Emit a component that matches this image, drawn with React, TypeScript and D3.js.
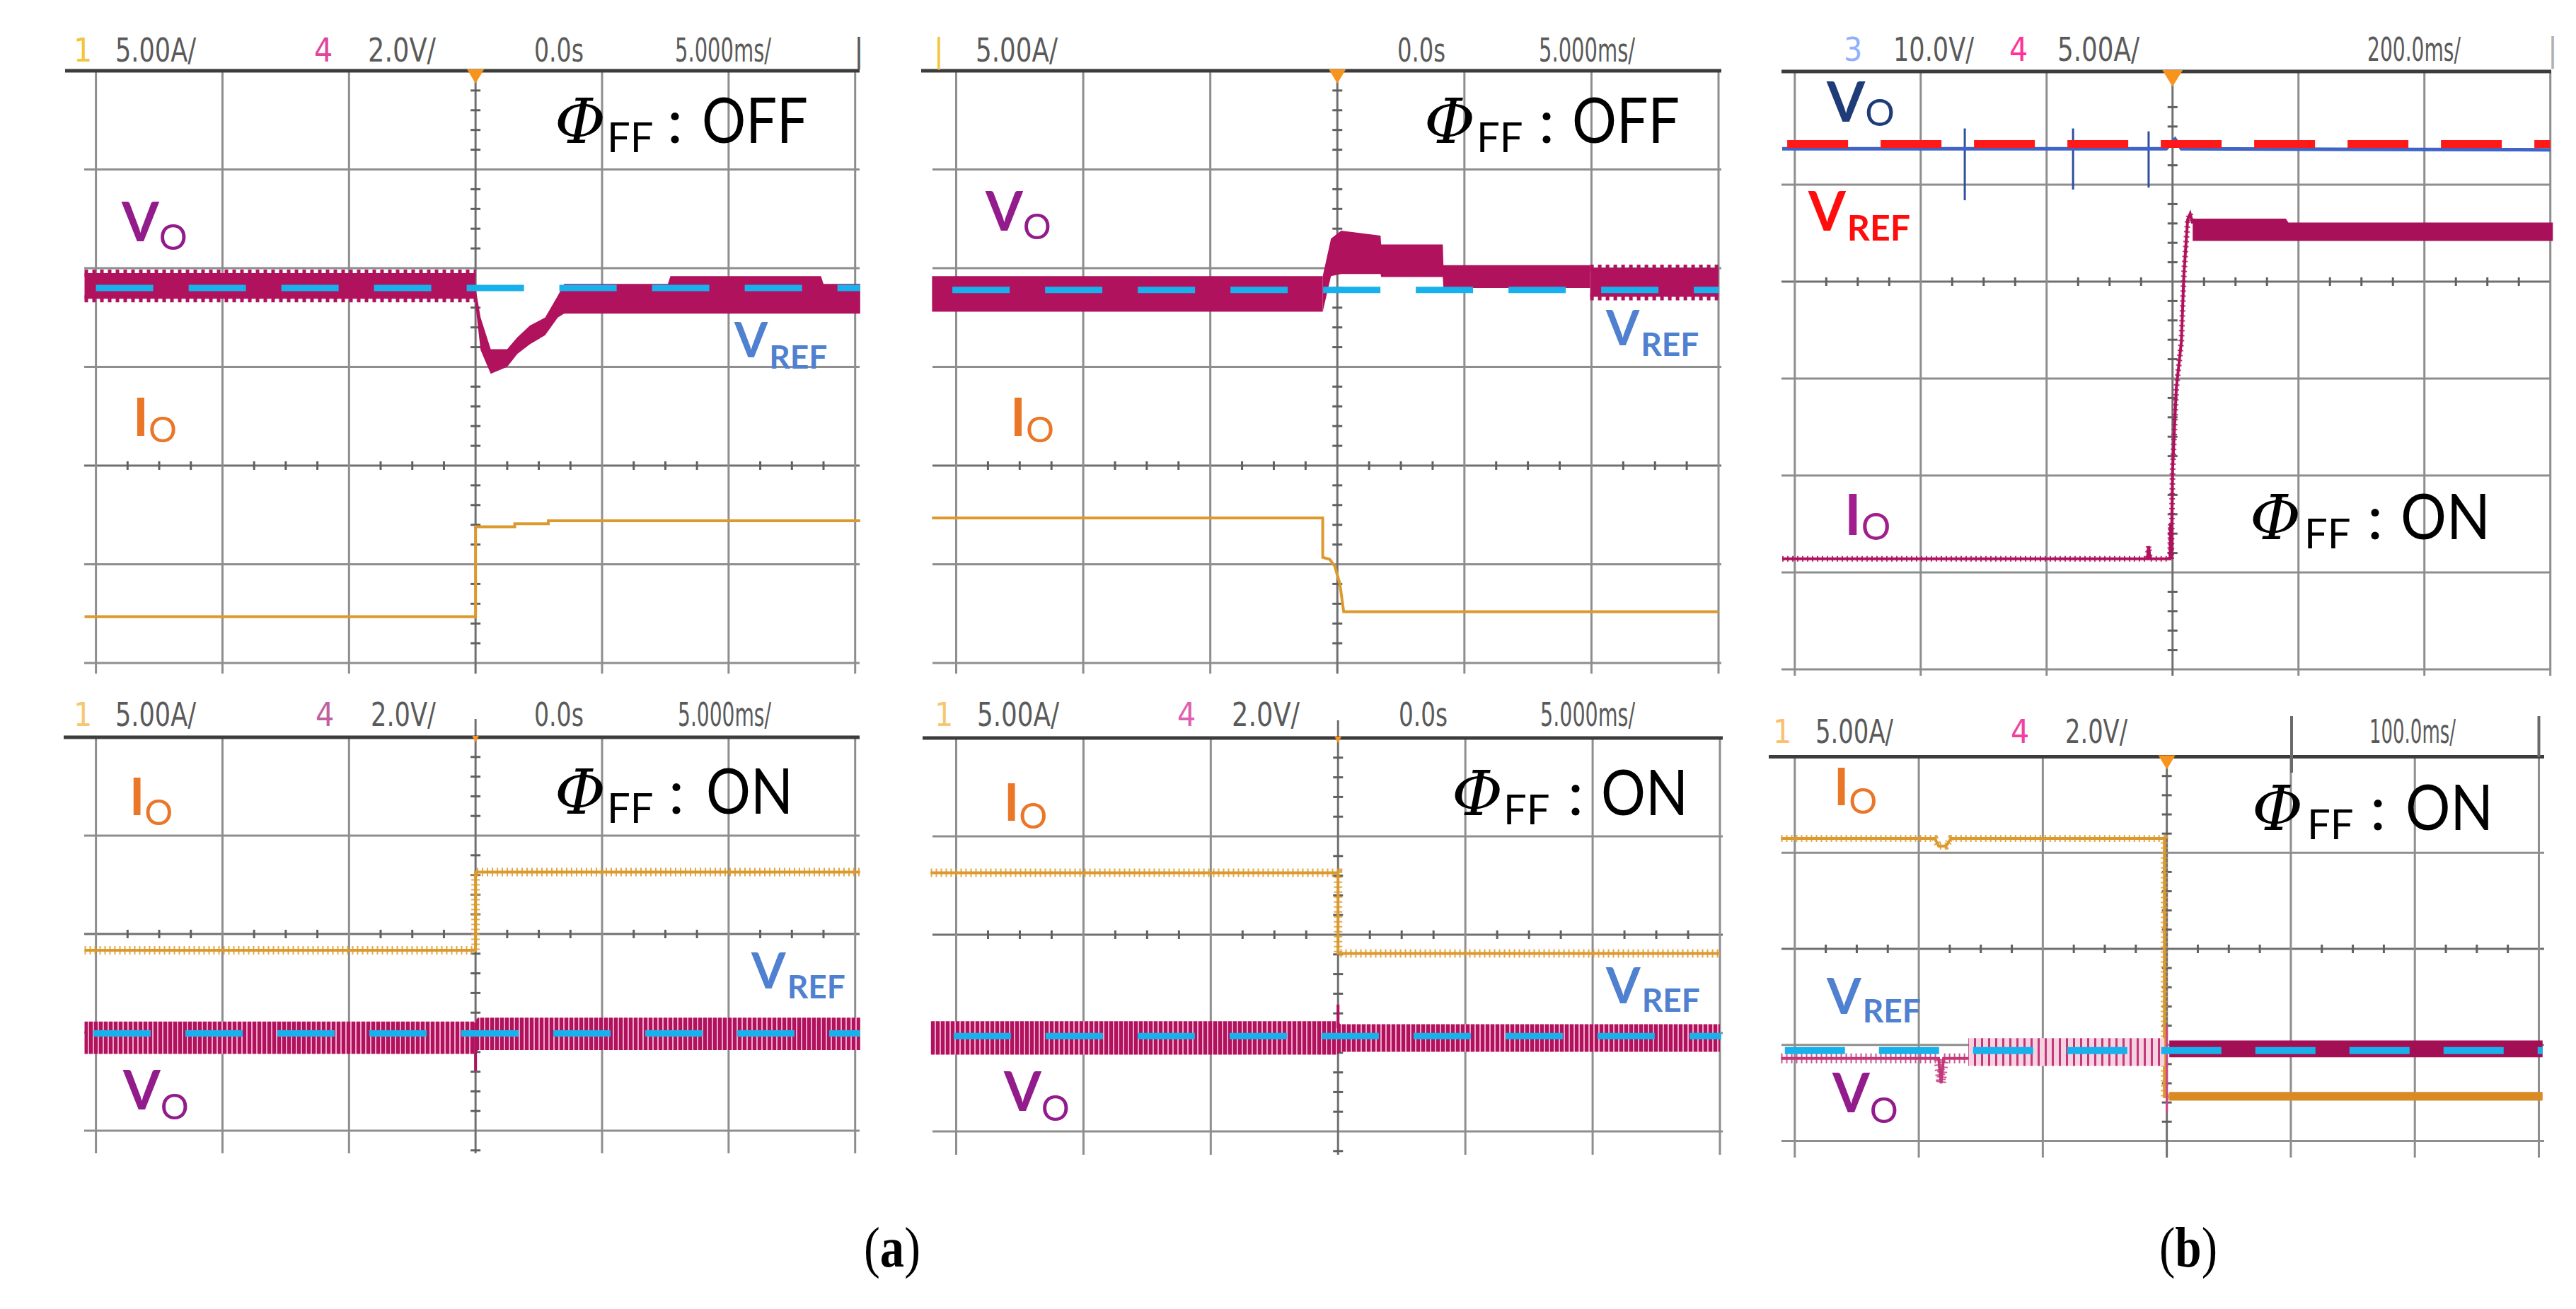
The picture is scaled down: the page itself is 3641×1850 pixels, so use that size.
import React from 'react';
import * as d3 from 'd3';

type Pt = [number, number];
type BandPt = [number, number, number]; // x, top, bottom (scope divisions)
type Sc = d3.ScaleLinear<number, number>;

const W = 3641;
const H = 1850;

const CRIMSON = '#b0125e';
const ORANGE = '#dc9a2e';
const CYAN = '#18b1ec';
const RED = '#ff1a1a';
const BLUE_TRACE = '#3f63c6';
const GRID = '#8e8e8e';
const BORDER = '#3c3c3c';
const LBL_V = '#931c8c';
const LBL_I = '#ea7628';
const LBL_REF = '#5080d0';

// ---------- data, in scope divisions (x: time div from trigger, y: div from centre line) ----------

// (a) top-left : phi_ff OFF, load step up
const aOffUpVoBefore: BandPt[] = [[-3.09, 1.95, 1.69], [0, 1.95, 1.69]];
const aOffUpVoAfter: BandPt[] = [
  [0, 1.8, 1.62], [0.04, 1.5, 1.17], [0.12, 1.18, 0.93], [0.25, 1.18, 1.0],
  [0.33, 1.3, 1.13], [0.43, 1.42, 1.23], [0.55, 1.5, 1.32], [0.65, 1.72, 1.5],
  [0.7, 1.84, 1.54], [1.52, 1.84, 1.54], [1.54, 1.92, 1.54], [2.73, 1.92, 1.54],
  [2.75, 1.84, 1.54], [3.04, 1.84, 1.54],
];
const aOffUpIo: Pt[] = [[-3.09, -1.53], [0, -0.62], [0.31, -0.59], [0.575, -0.56], [3.04, -0.56]];
const aOffUpVref: Pt[] = [[-3.0, 1.8], [3.04, 1.8]];

// (a) top-middle : phi_ff OFF, load step down
const aOffDnVoBefore: BandPt[] = [[-3.19, 1.92, 1.56], [-0.115, 1.92, 1.56]];
const aOffDnVoAfter: BandPt[] = [
  [-0.115, 1.92, 1.56], [-0.05, 2.3, 1.92], [0.03, 2.38, 1.94], [0.34, 2.33, 1.94],
  [0.345, 2.24, 1.91], [0.83, 2.24, 1.91], [0.835, 2.03, 1.8], [1.99, 2.03, 1.8],
];
const aOffDnVoRipple: BandPt[] = [[1.99, 2.0, 1.71], [3.0, 2.0, 1.71]];
const aOffDnIo: Pt[] = [
  [-3.19, -0.53], [-0.115, -0.53], [-0.115, -0.93], [-0.06, -0.95], [-0.02, -1.02],
  [0.02, -1.2], [0.05, -1.48], [3.0, -1.48],
];
const aOffDnVref: Pt[] = [[-3.03, 1.78], [3.0, 1.78]];

// (b) top-right : phi_ff ON, 200 us/div
const bOnVo: Pt[] = [[-3.1, 1.37], [-0.05, 1.37], [0.02, 1.47], [0.07, 1.37], [3.0, 1.36]];
const bOnVoSpikes: [number, number, number][] = [[-1.65, 1.58, 0.84], [-0.79, 1.58, 0.95], [-0.19, 1.55, 0.97]];
const bOnVref: Pt[] = [[-3.06, 1.42], [3.0, 1.42]];
const bOnIo: Pt[] = [
  [-3.1, -2.86], [-0.2, -2.86], [-0.19, -2.73], [-0.18, -2.86], [-0.02, -2.86],
  [-0.015, -2.5], [-0.01, -2.86], [0.0, -1.95], [0.03, -1.1], [0.07, -0.62],
  [0.09, 0.07], [0.12, 0.64], [0.14, 0.7], [0.16, 0.6],
];
const bOnIoBand: BandPt[] = [[0.16, 0.65, 0.42], [0.9, 0.65, 0.42], [0.92, 0.61, 0.42], [3.02, 0.61, 0.42]];

// (a) bottom-left : phi_ff ON, load step up
const aOnUpIo: Pt[] = [[-3.09, -0.165], [0, 0.63], [3.04, 0.63]];
const aOnUpVo: BandPt[] = [[-3.09, -0.89, -1.22], [-0.01, -0.89, -1.22], [0.02, -0.85, -1.18], [3.04, -0.85, -1.18]];
const aOnUpVoSpike: Pt[] = [[0, -0.9], [0, -1.39]];
const aOnUpVref: Pt[] = [[-3.02, -1.01], [3.04, -1.01]];

// (a) bottom-middle : phi_ff ON, load step down
const aOnDnIo: Pt[] = [[-3.2, 0.63], [0, -0.19], [3.0, -0.19]];
const aOnDnVo: BandPt[] = [[-3.2, -0.88, -1.22], [-0.01, -0.88, -1.22], [0.02, -0.91, -1.19], [3.0, -0.91, -1.19]];
const aOnDnVoSpike: Pt[] = [[0, -0.71], [0, -0.95]];
const aOnDnVref: Pt[] = [[-3.02, -1.03], [3.01, -1.03]];

// (b) bottom-right : phi_ff ON, 100 us/div
const bOn2Io: Pt[] = [
  [-3.11, 1.15], [-1.87, 1.15], [-1.84, 1.07], [-1.78, 1.07], [-1.74, 1.15],
  [-0.02, 1.15], [-0.02, -1.54], [0.02, -1.54],
];
const bOn2IoBand: BandPt[] = [[0.02, -1.49, -1.58], [3.03, -1.49, -1.58]];
const bOn2VoLine: Pt[] = [[-3.11, -1.14], [-1.84, -1.14], [-1.82, -1.4], [-1.8, -1.14], [-1.6, -1.14]];
const bOn2VoStripes: BandPt[] = [[-1.6, -0.93, -1.22], [-0.02, -0.93, -1.22]];
const bOn2VoAfter: BandPt[] = [[0.02, -0.955, -1.13], [3.03, -0.955, -1.13]];
const bOn2Spike: Pt[] = [[0, -0.8], [0, -1.7]];
const bOn2Vref: Pt[] = [[-3.08, -1.06], [3.03, -1.06]];

// ---------- layout ----------
type Geo = {
  xl: number; xr: number; y0: number; dv: number; hLines: number[];
  topPx: number; topL: number; topR: number; extL: number; extR: number;
  vBottom: number; trig: number; centerUp?: number;
};
type Hdr = { t: string; x: number; w?: number; c?: string };
type Lbl = { main: string; sub: string; x: number; y: number; size: number; subSize: number; subDy: number; subDx?: number; subWeight?: number; color: string };
type Phi = { x: number; ffx: number; cx: number; sx: number; sw: number; y: number; state: string };

const geoA1: Geo = { xl: 135.6, xr: 1208.7, y0: 658, dv: 139.5, hLines: [-2, -1, 0, 1, 2, 3], topPx: 100, topL: 92, topR: 1215, extL: 119, extR: 1215, vBottom: 952, trig: 1 };
const geoA2: Geo = { xl: 1351.5, xr: 2429, y0: 658, dv: 139.5, hLines: [-2, -1, 0, 1, 2, 3], topPx: 100, topL: 1302, topR: 2433, extL: 1318, extR: 2433, vBottom: 952, trig: 1 };
const geoB1: Geo = { xl: 2536.8, xr: 3604.7, y0: 398, dv: 137, hLines: [-4, -3, -2, -1, 0, 1], topPx: 101, topL: 2518, topR: 3606, extL: 2518, extR: 3606, vBottom: 955, trig: 1.2 };
const geoA3: Geo = { xl: 135.6, xr: 1208.7, y0: 1320, dv: 139, hLines: [-2, -1, 0, 1], topPx: 1042, topL: 90, topR: 1215, extL: 119, extR: 1215, vBottom: 1630, trig: 0.4, centerUp: 1016 };
const geoA4: Geo = { xl: 1351.5, xr: 2431, y0: 1321, dv: 139, hLines: [-2, -1, 0, 1], topPx: 1043, topL: 1304, topR: 2435, extL: 1318, extR: 2435, vBottom: 1632, trig: 0.4, centerUp: 1018 };
const geoB2: Geo = { xl: 2536.8, xr: 3588.5, y0: 1341, dv: 135.7, hLines: [-2, -1, 0, 1], topPx: 1069.6, topL: 2500, topR: 3596, extL: 2518, extR: 3596, vBottom: 1636, trig: 1 };

const CH1 = '#f2c53d';
const CH4 = '#e2439d';
const hdrA1: Hdr[] = [
  { t: '1', x: 104, c: CH1 }, { t: '5.00A/', x: 163, w: 114 }, { t: '4', x: 444, c: CH4 },
  { t: '2.0V/', x: 520, w: 96 }, { t: '0.0s', x: 755, w: 70 }, { t: '5.000ms/', x: 954, w: 136 }, { t: '|', x: 1207 },
];
const hdrA2: Hdr[] = [
  { t: '|', x: 1320, c: CH1 }, { t: '5.00A/', x: 1379, w: 116 }, { t: '0.0s', x: 1975, w: 68 }, { t: '5.000ms/', x: 2175, w: 136 },
];
const hdrB1: Hdr[] = [
  { t: '3', x: 2606, c: '#8fb0ff' }, { t: '10.0V/', x: 2676, w: 114 }, { t: '4', x: 2840, c: '#ff3399' },
  { t: '5.00A/', x: 2908, w: 116 }, { t: '200.0ms/', x: 3346, w: 132 }, { t: '|', x: 3601, c: '#b0b0b0' },
];
const hdrA3: Hdr[] = [
  { t: '1', x: 104, c: '#f5c870' }, { t: '5.00A/', x: 163, w: 114 }, { t: '4', x: 446, c: '#c060a0' },
  { t: '2.0V/', x: 524, w: 92 }, { t: '0.0s', x: 755, w: 70 }, { t: '5.000ms/', x: 958, w: 132 },
];
const hdrA4: Hdr[] = [
  { t: '1', x: 1321, c: '#f5c870' }, { t: '5.00A/', x: 1381, w: 116 }, { t: '4', x: 1664, c: '#e060b0' },
  { t: '2.0V/', x: 1741, w: 96 }, { t: '0.0s', x: 1977, w: 69 }, { t: '5.000ms/', x: 2177, w: 134 },
];
const hdrB2: Hdr[] = [
  { t: '1', x: 2506, c: '#f8c070' }, { t: '5.00A/', x: 2566, w: 110 }, { t: '4', x: 2842, c: '#f040a0' },
  { t: '2.0V/', x: 2919, w: 88 }, { t: '100.0ms/', x: 3349, w: 122 },
];

const lblA1: Lbl[] = [
  { main: 'V', sub: 'O', x: 172, y: 341, size: 76, subSize: 50, subDy: 12, color: LBL_V },
  { main: 'I', sub: 'O', x: 188, y: 616, size: 74, subSize: 50, subDy: 9, color: LBL_I },
  { main: 'V', sub: 'REF', x: 1038, y: 505, size: 68, subSize: 46, subDy: 16, subDx: 2, subWeight: 700, color: LBL_REF },
];
const lblA2: Lbl[] = [
  { main: 'V', sub: 'O', x: 1393, y: 326, size: 76, subSize: 50, subDy: 12, color: LBL_V },
  { main: 'I', sub: 'O', x: 1428, y: 616, size: 74, subSize: 50, subDy: 9, color: LBL_I },
  { main: 'V', sub: 'REF', x: 2270, y: 488, size: 68, subSize: 46, subDy: 15, subDx: 2, subWeight: 700, color: LBL_REF },
];
const lblB1: Lbl[] = [
  { main: 'V', sub: 'O', x: 2582, y: 172, size: 78, subSize: 52, subDy: 6, color: '#1f3c78' },
  { main: 'V', sub: 'REF', x: 2556, y: 326, size: 76, subSize: 50, subDy: 14, subDx: 2, subWeight: 700, color: '#ff0d0d' },
  { main: 'I', sub: 'O', x: 2607, y: 756, size: 80, subSize: 52, subDy: 7, color: '#a01e8e' },
];
const lblA3: Lbl[] = [
  { main: 'I', sub: 'O', x: 183, y: 1152, size: 72, subSize: 50, subDy: 14, color: LBL_I },
  { main: 'V', sub: 'REF', x: 1062, y: 1397, size: 70, subSize: 46, subDy: 14, subDx: 2, subWeight: 700, color: LBL_REF },
  { main: 'V', sub: 'O', x: 174, y: 1568, size: 76, subSize: 50, subDy: 14, color: LBL_V },
];
const lblA4: Lbl[] = [
  { main: 'I', sub: 'O', x: 1419, y: 1160, size: 72, subSize: 50, subDy: 11, color: LBL_I },
  { main: 'V', sub: 'REF', x: 2270, y: 1418, size: 70, subSize: 46, subDy: 12, subDx: 2, subWeight: 700, color: LBL_REF },
  { main: 'V', sub: 'O', x: 1419, y: 1570, size: 76, subSize: 50, subDy: 14, color: LBL_V },
];
const lblB2: Lbl[] = [
  { main: 'I', sub: 'O', x: 2592, y: 1138, size: 72, subSize: 50, subDy: 12, color: LBL_I },
  { main: 'V', sub: 'REF', x: 2582, y: 1433, size: 70, subSize: 46, subDy: 12, subDx: 2, subWeight: 700, color: LBL_REF },
  { main: 'V', sub: 'O', x: 2590, y: 1572, size: 76, subSize: 50, subDy: 15, color: LBL_V },
];

const phiA1: Phi = { x: 784, ffx: 858, cx: 943, sx: 992, sw: 150, y: 202, state: 'OFF' };
const phiA2: Phi = { x: 2013, ffx: 2087, cx: 2175, sx: 2222, sw: 152, y: 202, state: 'OFF' };
const phiB1: Phi = { x: 3180, ffx: 3257, cx: 3346, sx: 3393, sw: 127, y: 762, state: 'ON' };
const phiA3: Phi = { x: 784, ffx: 858, cx: 945, sx: 998, sw: 123, y: 1150, state: 'ON' };
const phiA4: Phi = { x: 2052, ffx: 2125, cx: 2216, sx: 2263, sw: 123, y: 1152, state: 'ON' };
const phiB2: Phi = { x: 3183, ffx: 3261, cx: 3350, sx: 3400, sw: 124, y: 1173, state: 'ON' };

// ---------- helpers ----------
const linePath = (sx: Sc, sy: Sc, data: Pt[], curve: d3.CurveFactory = d3.curveLinear) =>
  d3.line<Pt>().x(d => sx(d[0])).y(d => sy(d[1])).curve(curve)(data) ?? '';
const bandPath = (sx: Sc, sy: Sc, data: BandPt[]) =>
  d3.area<BandPt>().x(d => sx(d[0])).y0(d => sy(d[2])).y1(d => sy(d[1]))(data) ?? '';

function Band({ data, sx, sy, fill, comb }: { data: BandPt[]; sx: Sc; sy: Sc; fill: string; comb?: boolean }) {
  return (
    <g>
      <path d={bandPath(sx, sy, data)} fill={fill} />
      {comb && (
        <>
          <path d={linePath(sx, sy, data.map(d => [d[0], d[1]] as Pt))} stroke={CRIMSON} strokeWidth={10} strokeDasharray="5 6" fill="none" />
          <path d={linePath(sx, sy, data.map(d => [d[0], d[2]] as Pt))} stroke={CRIMSON} strokeWidth={10} strokeDasharray="5 6" fill="none" />
        </>
      )}
    </g>
  );
}

function Trace({ data, sx, sy, color, width, curve, ripple }: { data: Pt[]; sx: Sc; sy: Sc; color: string; width: number; curve?: d3.CurveFactory; ripple?: number }) {
  const d = linePath(sx, sy, data, curve);
  return (
    <g>
      <path d={d} stroke={color} strokeWidth={width} fill="none" strokeLinejoin="miter" />
      {ripple ? <path d={d} stroke={color} strokeWidth={ripple} strokeDasharray="2 5" fill="none" opacity={0.85} /> : null}
    </g>
  );
}

function Dashed({ data, sx, sy, color, width, dash }: { data: Pt[]; sx: Sc; sy: Sc; color: string; width: number; dash: string }) {
  return <path d={linePath(sx, sy, data)} stroke={color} strokeWidth={width} strokeDasharray={dash} fill="none" />;
}

function Grid({ g, sx, sy }: { g: Geo; sx: Sc; sy: Sc }) {
  const cols = d3.range(-3, 4);
  const xTicks = d3.range(-3, 3).flatMap(i => [0.25, 0.5, 0.75].map(k => i + k));
  const yLo = sy.invert(g.vBottom);
  const yHi = sy.invert(g.topPx);
  const yTicks = d3.range(Math.ceil(yLo * 5), Math.floor(yHi * 5) + 1)
    .map(k => k / 5)
    .filter(v => Math.abs(v - Math.round(v)) > 1e-6);
  const cx = sx(0);
  const s = g.trig;
  return (
    <g>
      {g.hLines.map(v => (
        <line key={'h' + v} x1={g.extL} x2={g.extR} y1={sy(v)} y2={sy(v)} stroke={v === 0 ? '#707070' : GRID} strokeWidth={3} />
      ))}
      {cols.map(c => (
        <line key={'v' + c} x1={sx(c)} x2={sx(c)} y1={g.topPx} y2={g.vBottom} stroke={c === 0 ? '#707070' : GRID} strokeWidth={3} />
      ))}
      {xTicks.map(t => (
        <line key={'xt' + t} x1={sx(t)} x2={sx(t)} y1={sy(0) - 6} y2={sy(0) + 6} stroke="#606060" strokeWidth={3} />
      ))}
      {yTicks.map(t => (
        <line key={'yt' + t} x1={cx - 7} x2={cx + 7} y1={sy(t)} y2={sy(t)} stroke="#606060" strokeWidth={3} />
      ))}
      {g.centerUp ? <line x1={cx} x2={cx} y1={g.centerUp} y2={g.topPx} stroke="#707070" strokeWidth={3} /> : null}
      <line x1={g.topL} x2={g.topR} y1={g.topPx} y2={g.topPx} stroke={BORDER} strokeWidth={5} />
      <path d={`M${cx - 12 * s},${g.topPx - 2} L${cx + 12 * s},${g.topPx - 2} L${cx},${g.topPx + 18 * s} Z`} fill="#f7941d" />
    </g>
  );
}

function Header({ items, y }: { items: Hdr[]; y: number }) {
  return (
    <g fontFamily="'Liberation Sans Narrow', 'DejaVu Sans Condensed', sans-serif" fontSize={46} fill="#5a5a5a">
      {items.map((h, i) =>
        h.w ? (
          <text key={i} x={h.x} y={y} textLength={h.w} lengthAdjust="spacingAndGlyphs" fill={h.c ?? '#5a5a5a'}>{h.t}</text>
        ) : (
          <text key={i} x={h.x} y={y} fill={h.c ?? '#5a5a5a'}>{h.t}</text>
        )
      )}
    </g>
  );
}

function SubLabel({ l }: { l: Lbl }) {
  return (
    <text x={l.x} y={l.y} fontFamily="Lato, 'Open Sans', sans-serif" fontSize={l.size} fill={l.color} fontWeight={700}>
      {l.main}
      <tspan dx={l.subDx ?? 0} dy={l.subDy} fontSize={l.subSize} fontWeight={l.subWeight ?? 400}>{l.sub}</tspan>
    </text>
  );
}

function PhiLabel({ p }: { p: Phi }) {
  return (
    <g fill="#000">
      <text x={p.x} y={p.y} fontFamily="'DejaVu Serif', 'Liberation Serif', serif" fontStyle="italic" fontSize={88}>Φ</text>
      <text x={p.ffx} y={p.y + 13} fontFamily="Lato, sans-serif" fontSize={58}>FF</text>
      <text x={p.cx} y={p.y} fontFamily="Lato, sans-serif" fontSize={88}>:</text>
      <text x={p.sx} y={p.y} fontFamily="Lato, sans-serif" fontSize={90} textLength={p.sw} lengthAdjust="spacingAndGlyphs">{p.state}</text>
    </g>
  );
}

function Panel({ g, header, hdrY, labels, phi, draw }: {
  g: Geo; header: Hdr[]; hdrY: number; labels: Lbl[]; phi: Phi; draw: (sx: Sc, sy: Sc) => React.ReactNode;
}) {
  const sx = d3.scaleLinear().domain([-3, 3]).range([g.xl, g.xr]);
  const sy = d3.scaleLinear().domain([0, 1]).range([g.y0, g.y0 - g.dv]);
  return (
    <g>
      <Grid g={g} sx={sx} sy={sy} />
      {draw(sx, sy)}
      <Header items={header} y={hdrY} />
      {labels.map((l, i) => <SubLabel key={i} l={l} />)}
      <PhiLabel p={phi} />
    </g>
  );
}

export default function App() {
  return (
    <svg width={W} height={H} viewBox={`0 0 ${W} ${H}`} style={{ position: 'absolute', left: 0, top: 0, background: '#fff', display: 'block' }}>
      <defs>
        <pattern id="vStripes" width="7" height="20" patternUnits="userSpaceOnUse">
          <rect width="7" height="20" fill="#eea6c6" />
          <rect width="5" height="20" fill={CRIMSON} />
        </pattern>
        <pattern id="vStripesLight" width="10" height="20" patternUnits="userSpaceOnUse">
          <rect width="10" height="20" fill="#f7d3e2" />
          <rect width="3" height="20" fill="#c2387a" />
        </pattern>
      </defs>
      <rect width={W} height={H} fill="#fff" />

      <Panel g={geoA1} header={hdrA1} hdrY={87} labels={lblA1} phi={phiA1} draw={(sx, sy) => (
        <>
          <Band data={aOffUpVoBefore} sx={sx} sy={sy} fill={CRIMSON} comb />
          <Band data={aOffUpVoAfter} sx={sx} sy={sy} fill={CRIMSON} />
          <Trace data={aOffUpIo} sx={sx} sy={sy} color={ORANGE} width={4} curve={d3.curveStepAfter} />
          <Dashed data={aOffUpVref} sx={sx} sy={sy} color={CYAN} width={9} dash="81 50" />
        </>
      )} />

      <Panel g={geoA2} header={hdrA2} hdrY={87} labels={lblA2} phi={phiA2} draw={(sx, sy) => (
        <>
          <Band data={aOffDnVoBefore} sx={sx} sy={sy} fill={CRIMSON} />
          <Band data={aOffDnVoAfter} sx={sx} sy={sy} fill={CRIMSON} />
          <Band data={aOffDnVoRipple} sx={sx} sy={sy} fill={CRIMSON} comb />
          <Trace data={aOffDnIo} sx={sx} sy={sy} color={ORANGE} width={4} />
          <Dashed data={aOffDnVref} sx={sx} sy={sy} color={CYAN} width={9} dash="81 50" />
        </>
      )} />

      <Panel g={geoB1} header={hdrB1} hdrY={86} labels={lblB1} phi={phiB1} draw={(sx, sy) => (
        <>
          {bOnVoSpikes.map((s, i) => (
            <line key={i} x1={sx(s[0])} x2={sx(s[0])} y1={sy(s[1])} y2={sy(s[2])} stroke="#2f4f9e" strokeWidth={3} />
          ))}
          <Trace data={bOnVo} sx={sx} sy={sy} color={BLUE_TRACE} width={5} />
          <Dashed data={bOnVref} sx={sx} sy={sy} color={RED} width={11} dash="86 46" />
          <Trace data={bOnIo} sx={sx} sy={sy} color={CRIMSON} width={4} ripple={8} />
          <Band data={bOnIoBand} sx={sx} sy={sy} fill="#a8105a" />
        </>
      )} />

      <Panel g={geoA3} header={hdrA3} hdrY={1026} labels={lblA3} phi={phiA3} draw={(sx, sy) => (
        <>
          <Trace data={aOnUpIo} sx={sx} sy={sy} color={ORANGE} width={4} curve={d3.curveStepAfter} ripple={12} />
          <Band data={aOnUpVo} sx={sx} sy={sy} fill="url(#vStripes)" />
          <Trace data={aOnUpVoSpike} sx={sx} sy={sy} color={CRIMSON} width={4} />
          <Dashed data={aOnUpVref} sx={sx} sy={sy} color={CYAN} width={9} dash="81 49" />
        </>
      )} />

      <Panel g={geoA4} header={hdrA4} hdrY={1026} labels={lblA4} phi={phiA4} draw={(sx, sy) => (
        <>
          <Trace data={aOnDnIo} sx={sx} sy={sy} color={ORANGE} width={4} curve={d3.curveStepAfter} ripple={12} />
          <Band data={aOnDnVo} sx={sx} sy={sy} fill="url(#vStripes)" />
          <Trace data={aOnDnVoSpike} sx={sx} sy={sy} color={CRIMSON} width={4} />
          <Dashed data={aOnDnVref} sx={sx} sy={sy} color={CYAN} width={9} dash="81 49" />
        </>
      )} />

      <Panel g={geoB2} header={hdrB2} hdrY={1050} labels={lblB2} phi={phiB2} draw={(sx, sy) => (
        <>
          <line x1={3239} x2={3239} y1={1012} y2={1092} stroke="#6a6a6a" strokeWidth={4} />
          <line x1={3588.5} x2={3588.5} y1={1012} y2={1070} stroke="#6a6a6a" strokeWidth={4} />
          <Trace data={bOn2Io} sx={sx} sy={sy} color={ORANGE} width={4} ripple={10} />
          <Band data={bOn2IoBand} sx={sx} sy={sy} fill="#d98a22" />
          <Trace data={bOn2VoLine} sx={sx} sy={sy} color="#c2387a" width={4} ripple={14} />
          <Band data={bOn2VoStripes} sx={sx} sy={sy} fill="url(#vStripesLight)" />
          <Band data={bOn2VoAfter} sx={sx} sy={sy} fill="#a30f55" />
          <Trace data={bOn2Spike} sx={sx} sy={sy} color="#d04488" width={3} />
          <Dashed data={bOn2Vref} sx={sx} sy={sy} color={CYAN} width={10} dash="85 48" />
        </>
      )} />

      <g fontFamily="'Liberation Serif', 'DejaVu Serif', serif" fontSize={80} fill="#000">
        <text x={1261} y={1790} textAnchor="middle" textLength={80} lengthAdjust="spacingAndGlyphs">
          (<tspan fontWeight={700}>a</tspan>)
        </text>
        <text x={3093} y={1790} textAnchor="middle" textLength={82} lengthAdjust="spacingAndGlyphs">
          (<tspan fontWeight={700}>b</tspan>)
        </text>
      </g>
    </svg>
  );
}
